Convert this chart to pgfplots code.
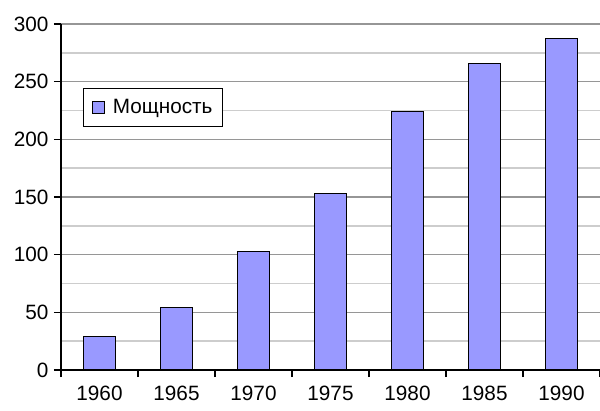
\documentclass[border=0pt]{standalone}
\usepackage{pgfplots}
\pgfplotsset{compat=1.18}
\usepackage{fontspec}
\setmainfont{Liberation Sans}
\definecolor{barfill}{RGB}{153,153,255}
\definecolor{majgrid}{RGB}{150,150,150}
\definecolor{mingrid}{RGB}{205,205,205}
\begin{document}
\begin{tikzpicture}
\begin{axis}[
  name=ax,
  scale only axis,
  width=539bp, height=346bp,
  ymin=0, ymax=300,
  xmin=-0.5, xmax=6.5,
  axis x line*=bottom, axis y line*=left,
  axis line style={line width=1.5bp, -},
  ytick={0,50,...,300},
  minor ytick={25,75,...,275},
  ymajorgrids, yminorgrids,
  major grid style={majgrid, line width=1.4bp},
  minor grid style={mingrid, line width=1.4bp},
  xtick={-0.5,0.5,...,6.5},
  x tick label as interval,
  xticklabels={1960,1965,1970,1975,1980,1985,1990},
  tick align=outside,
  major tick length=7bp,
  minor tick length=0bp,
  tick style={line width=1.3bp, black},
  tick pos=left,
  /pgf/number format/assume math mode=true,
  ticklabel style={font=\fontsize{20.8}{25}\selectfont, text=black},
  yticklabel style={xshift=-2bp},
  xticklabel style={yshift=-6bp},
  legend style={
    at={(axis description cs:0.0408,0.815)}, anchor=north west,
    draw=black, line width=1.3bp, fill=white,
    font=\fontsize{20.8}{25}\selectfont,
    inner xsep=8bp, inner ysep=9bp,
    column sep=6bp,
    legend cell align=left,
  },
  legend image code/.code={\draw[line width=1.2bp, fill=barfill, draw=black] (0bp,-6bp) rectangle (12bp,6bp);},
]
\addplot[ybar, bar width=32bp, fill=barfill, draw=black, line width=1.3bp]
  coordinates {(0,29) (1,54) (2,103) (3,153) (4,224) (5,265.5) (6,287.5)};
\addlegendentry{Мощность}
\coordinate (bl) at (rel axis cs:0,0);
\coordinate (tr) at (rel axis cs:1,1);
\end{axis}
\pgfresetboundingbox
\path[use as bounding box] ([xshift=-61bp,yshift=-40bp]bl) rectangle ([yshift=24bp]tr);
\end{tikzpicture}
\end{document}
